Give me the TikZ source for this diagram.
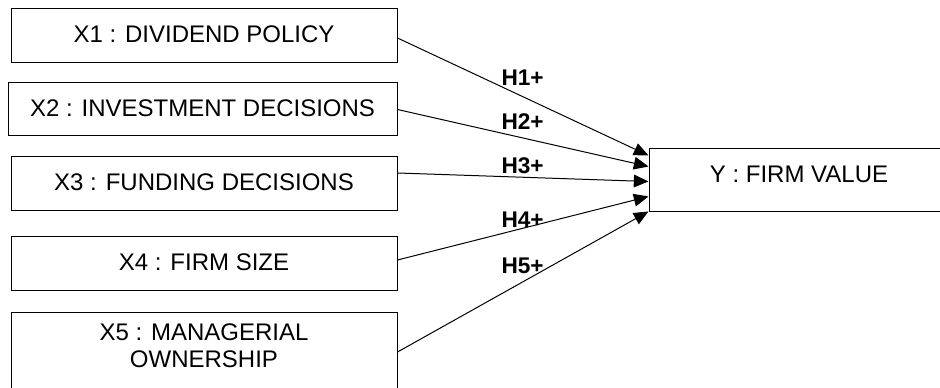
\documentclass[tikz,border=0pt]{standalone}
\usepackage{fontspec}
\setmainfont{Liberation Sans}
\usetikzlibrary{arrows.meta,calc}

\tikzset{every picture/.style={line width=0.75pt}}
\tikzset{
  varbox/.style={draw, rectangle, inner sep=0pt, align=center,
    font=\fontsize{18pt}{20.25pt}\selectfont,
    minimum width=289.5pt, minimum height=40.5pt,
    text height=13pt, text depth=2.5pt},
  hyplabel/.style={anchor=west, inner sep=0pt,
    font=\bfseries\fontsize{17pt}{20pt}\selectfont},
  hyparrow/.style={-{Triangle[length=11pt,width=9.5pt]}}
}

\begin{document}
\begin{tikzpicture}[x=0.75pt,y=0.75pt,yscale=-1,xscale=1]
\useasboundingbox (0,0) rectangle (940,388);

%Shape: Rectangle [id:x1]
\node[varbox] (x1) at (204,36) {X1 : DIVIDEND POLICY};
%Shape: Rectangle [id:x2]
\node[varbox, minimum width=291.75pt, minimum height=39.75pt] (x2) at (202.5,109.5) {X2 : INVESTMENT DECISIONS};
%Shape: Rectangle [id:x3]
\node[varbox] (x3) at (204,184) {X3 : FUNDING DECISIONS};
%Shape: Rectangle [id:x4]
\node[varbox] (x4) at (204,264) {X4 : FIRM SIZE};
%Shape: Rectangle [id:x5]
\node[varbox, minimum height=65.25pt, text height=34.25pt, text depth=17.4pt] (x5) at (204,356.5) {X5 : MANAGERIAL\\OWNERSHIP};

%Shape: Rectangle [id:y]
\node[varbox, minimum width=225pt, minimum height=47.25pt, text height=13pt, text depth=10.6pt] (y) at (799,180.5) {Y : FIRM VALUE};

%Straight Lines [id:arrows]
\draw[hyparrow] ($(x1.east)+(0,2)$) -- ($(y.west)+(0,-25)$);
\draw[hyparrow] (x2.east) -- ($(y.west)+(0,-14)$);
\draw[hyparrow] ($(x3.east)+(0,-11)$) -- ($(y.west)+(0,1)$);
\draw[hyparrow] ($(x4.east)+(0,-4)$) -- ($(y.west)+(0,16)$);
\draw[hyparrow] ($(x5.east)+(0,-4.5)$) -- ($(y.west)+(0,31)$);

% Text Nodes
\node[hyplabel] (h1) at (501,77.5) {H1+};
\node[hyplabel] (h2) at (501,122) {H2+};
\node[hyplabel] (h3) at (501,166) {H3+};
\node[hyplabel] (h4) at (501,219.5) {H4+};
\node[hyplabel] (h5) at (501,265.5) {H5+};
\end{tikzpicture}
\end{document}
